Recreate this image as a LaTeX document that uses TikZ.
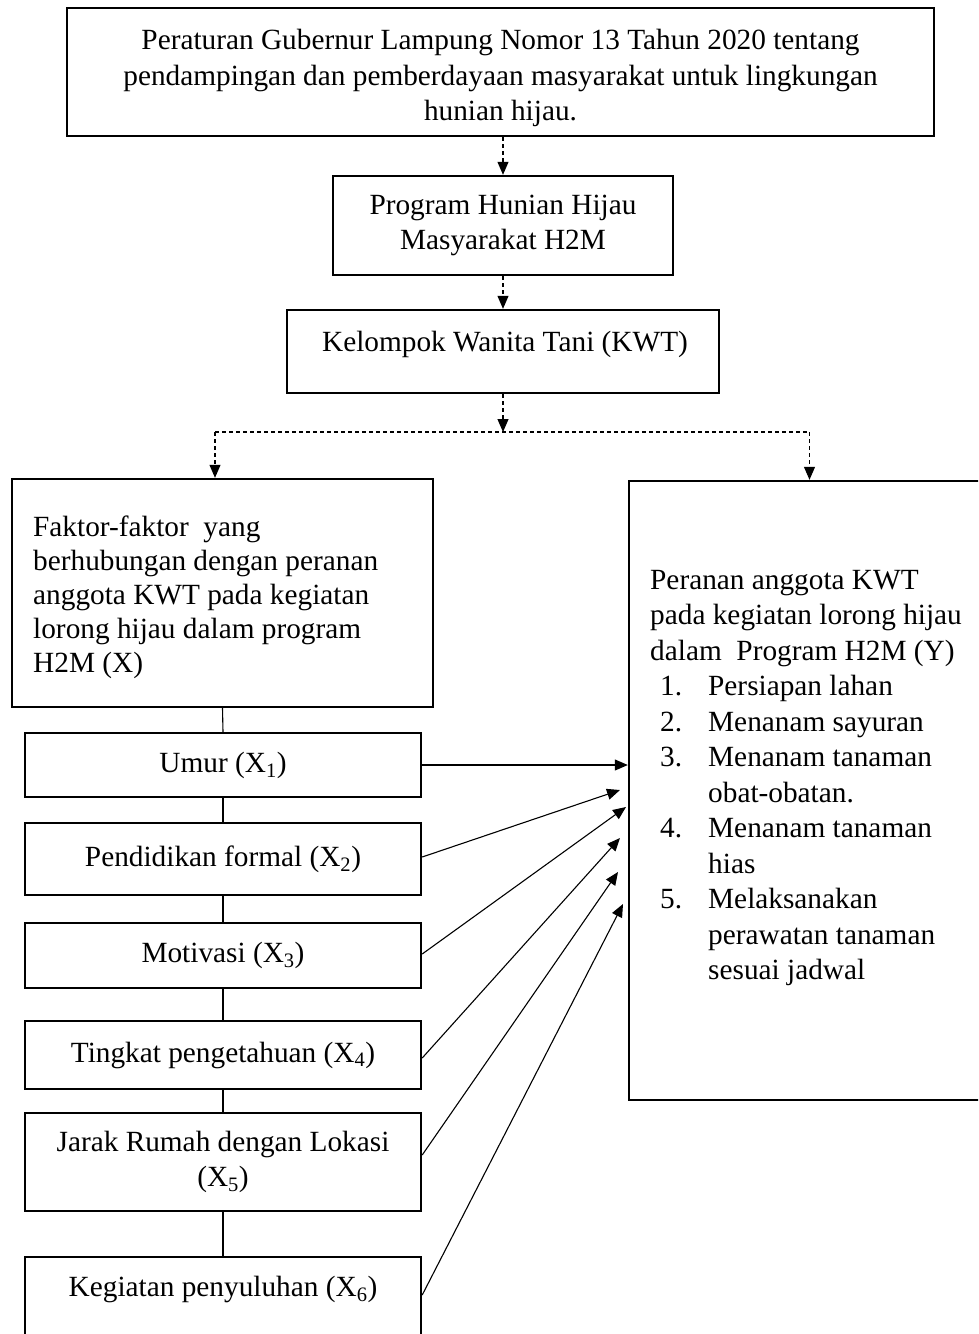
\documentclass[tikz,border=0pt]{standalone}
\usepackage{fontspec}
\setmainfont{Liberation Serif}
\usetikzlibrary{arrows.meta}
\tikzset{
  box/.style={draw, line width=2.4pt, inner sep=0pt, align=center},
  txt/.style={inner sep=0pt},
  conn/.style={line width=1.1pt},
  dconn/.style={line width=1.1pt, dash pattern=on 4pt off 3pt},
  tip/.style={-{Triangle[length=13pt,width=11pt]}},
}
\begin{document}
\begin{tikzpicture}[x=1pt,y=-1pt,font=\fontsize{29.3pt}{35.5pt}\selectfont]
\useasboundingbox (0,0) rectangle (978,1334);
\clip (0,0) rectangle (978,1334);
% top box
\node[box, minimum width=867pt, minimum height=128pt] (top) at (500.5,72) {};
\node[txt, align=center] (toptext) at (500.5,78) {Peraturan Gubernur Lampung Nomor 13 Tahun 2020 tentang\\pendampingan dan pemberdayaan masyarakat untuk lingkungan\\hunian hijau.};
% program box
\node[box, minimum width=340pt, minimum height=99pt] (prog) at (503,225.5) {Program Hunian Hijau\\Masyarakat H2M};
% KWT box
\node[box, minimum width=432pt, minimum height=83pt] (kwt) at (503,351.5) {};
\node[txt] (kwttext) at (505,344) {Kelompok Wanita Tani (KWT)};
% left factor box
\node[box, minimum width=421pt, minimum height=228pt] (fak) at (222.5,593) {};
\node[txt, align=left, anchor=west, font=\fontsize{29.3pt}{34pt}\selectfont] (faktext) at (33,597) {Faktor-faktor\ \ yang\\berhubungan dengan peranan\\anggota KWT pada kegiatan\\lorong hijau dalam program\\H2M (X)};
% right role box
\node[box, minimum width=361pt, minimum height=619pt] (per) at (809.5,790.5) {};
\node[txt, align=left, anchor=west] (pertext) at (650,778) {Peranan anggota KWT\\pada kegiatan lorong hijau\\dalam\ \ Program H2M (Y)\\
\makebox[58pt][l]{\hspace{10pt}1.}Persiapan lahan\\
\makebox[58pt][l]{\hspace{10pt}2.}Menanam sayuran\\
\makebox[58pt][l]{\hspace{10pt}3.}Menanam tanaman\\
\hspace*{58pt}obat-obatan.\\
\makebox[58pt][l]{\hspace{10pt}4.}Menanam tanaman\\
\hspace*{58pt}hias\\
\makebox[58pt][l]{\hspace{10pt}5.}Melaksanakan\\
\hspace*{58pt}perawatan tanaman\\
\hspace*{58pt}sesuai jadwal};
% factor boxes
\node[box, minimum width=396pt, minimum height=64pt] (umur) at (223,765) {Umur (X\textsubscript{1})};
\node[box, minimum width=396pt, minimum height=72pt] (pend) at (223,859) {Pendidikan formal (X\textsubscript{2})};
\node[box, minimum width=396pt, minimum height=65pt] (mot) at (223,955.5) {Motivasi (X\textsubscript{3})};
\node[box, minimum width=396pt, minimum height=68pt] (ting) at (223,1055) {Tingkat pengetahuan (X\textsubscript{4})};
\node[box, minimum width=396pt, minimum height=98pt] (jarak) at (223,1162) {Jarak Rumah dengan Lokasi\\(X\textsubscript{5})};
\node[box, minimum width=396pt, minimum height=95pt] (keg) at (223,1304.5) {};
\node[txt] (kegtext) at (223,1289) {Kegiatan penyuluhan (X\textsubscript{6})};
% dashed flow
\draw[dconn, tip] (prog.north |- top.south) -- (prog.north);
\draw[dconn, tip] (prog.south) -- (kwt.north);
\coordinate (j) at (503,432);
\coordinate (jl) at (215,432);
\coordinate (jr) at (809.5,432);
\draw[dconn, tip] (kwt.south) -- (j);
\draw[dconn] (jl) -- (jr);
\draw[dconn, tip] (jl) -- (jl |- fak.north);
\draw[dconn, tip] (jr) -- (per.north);
% vertical spine
\draw[conn] (fak.south) -- (umur.north);
\draw[conn] (umur.south) -- (pend.north);
\draw[conn] (pend.south) -- (mot.north);
\draw[conn] (mot.south) -- (ting.north);
\draw[conn] (ting.south) -- (jarak.north);
\draw[conn] (jarak.south) -- (keg.north);
% arrows to role box
\coordinate (t2) at (620,790);
\coordinate (t3) at (626,807);
\coordinate (t4) at (620,838);
\coordinate (t5) at (618,872);
\coordinate (t6) at (623,904);
\draw[conn, tip] (umur.east) -- (umur.east -| per.west);
\draw[conn, tip] ([yshift=2pt]pend.east) -- (t2);
\draw[conn, tip] ([yshift=1.5pt]mot.east) -- (t3);
\draw[conn, tip] ([yshift=-3pt]ting.east) -- (t4);
\draw[conn, tip] ([yshift=7pt]jarak.east) -- (t5);
\draw[conn, tip] ([yshift=9.5pt]keg.east) -- (t6);
\end{tikzpicture}
\end{document}
